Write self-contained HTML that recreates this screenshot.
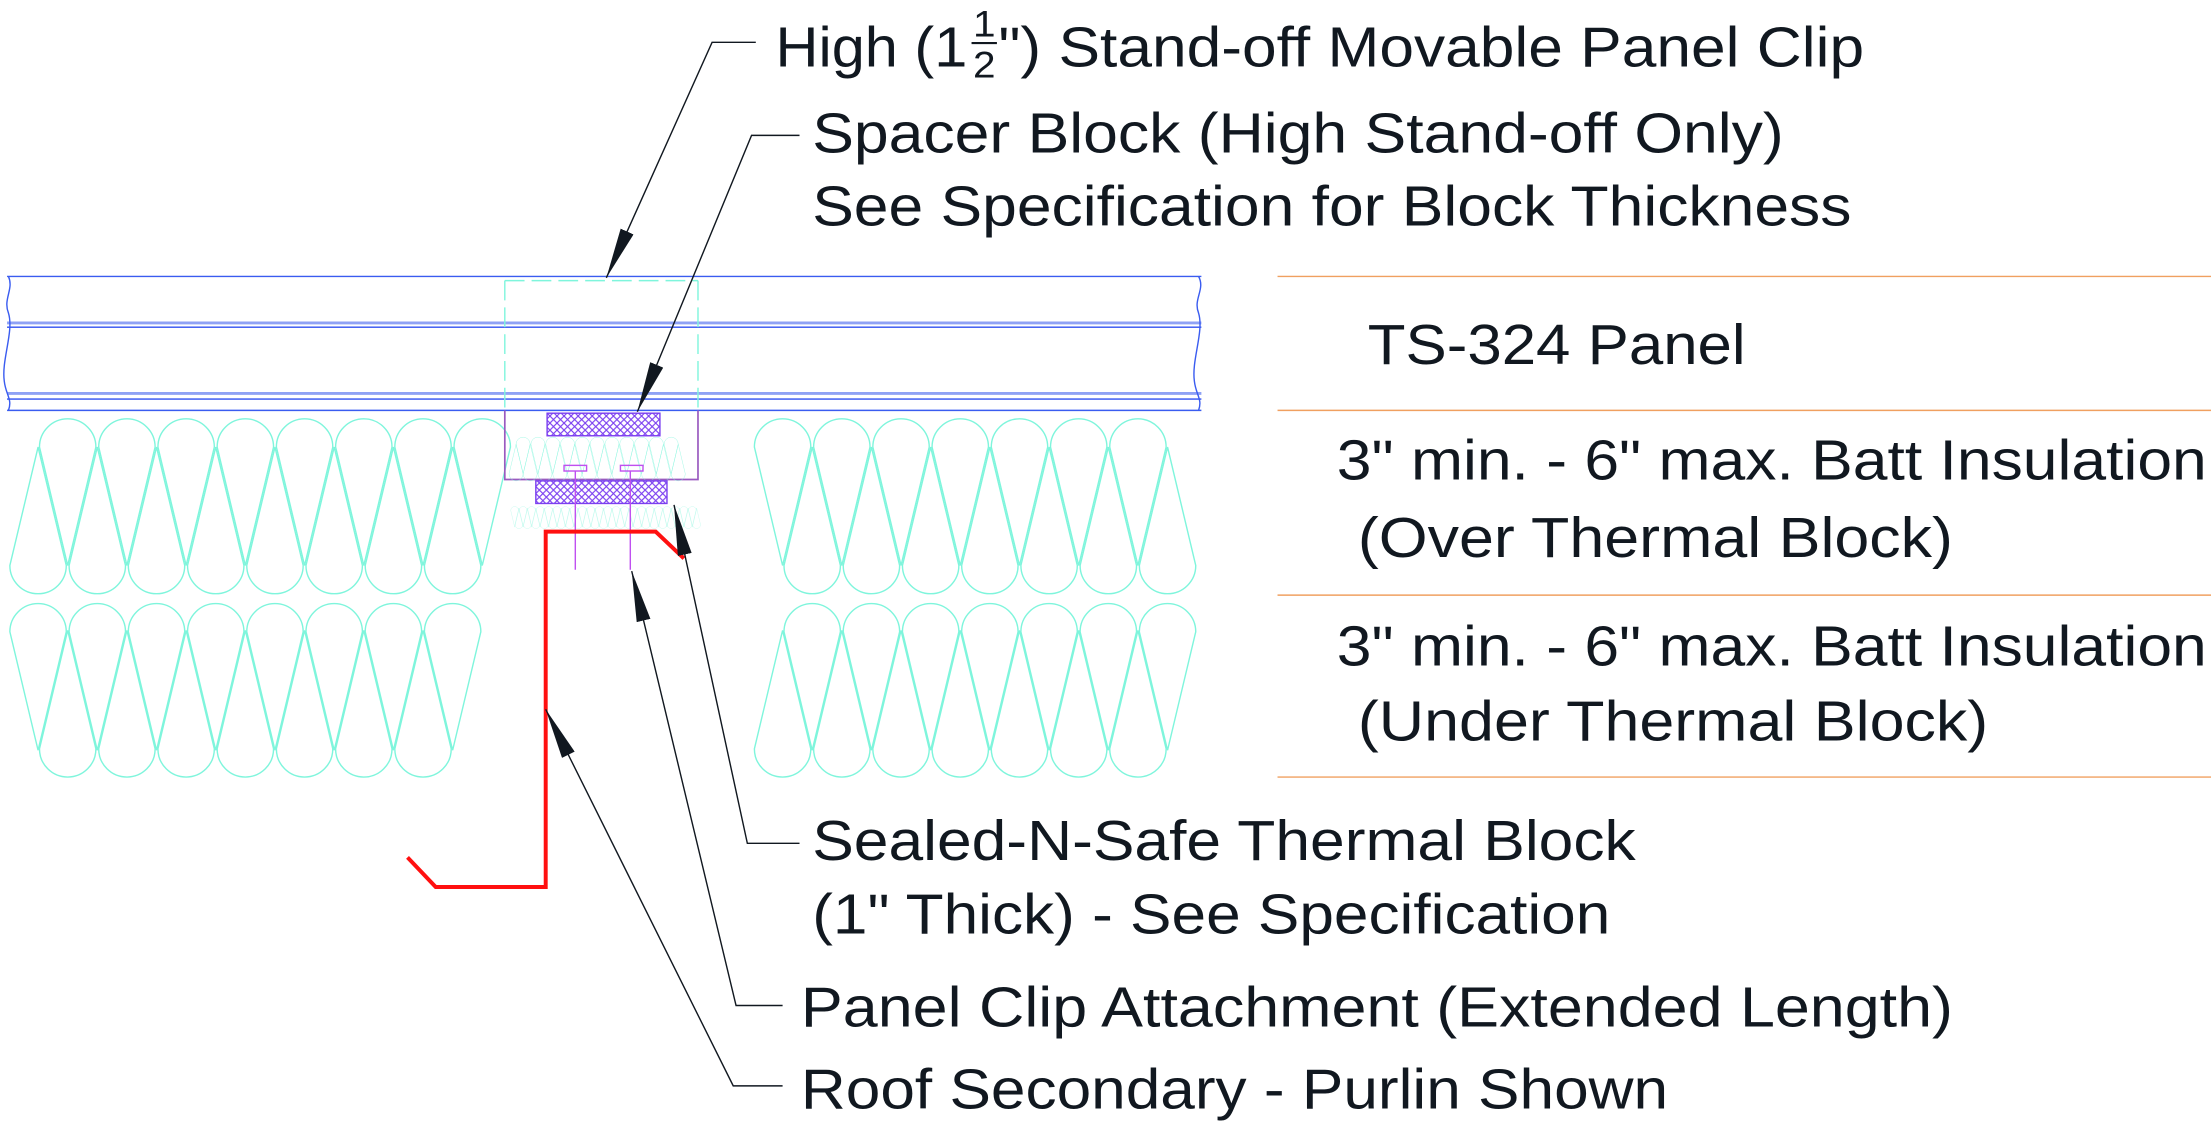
<!DOCTYPE html>
<html><head><meta charset="utf-8"><style>
html,body{margin:0;padding:0;background:#fff;}
svg{display:block;}
text{font-family:"Liberation Sans",sans-serif;font-size:40px;fill:#111820;}
</style></head><body>
<svg width="2211" height="1131" viewBox="0 0 1568 802" preserveAspectRatio="none" xmlns="http://www.w3.org/2000/svg">
<defs>
<path id="dn" d="M-20,0 A20,20 0 0 1 20,0 L0,84 Z" fill="none" stroke="#7ff5dc" stroke-width="1"/>
<path id="up" d="M-20,0 A20,20 0 0 0 20,0 L0,-84 Z" fill="none" stroke="#7ff5dc" stroke-width="1"/>
<pattern id="hatch" width="5" height="5" patternUnits="userSpaceOnUse">
<path d="M0,0 L5,5 M5,0 L0,5" stroke="#7b3ff0" stroke-width="0.8"/>
</pattern>
<marker id="ar" viewBox="0 0 36 10" refX="36" refY="5" markerWidth="36" markerHeight="10" markerUnits="userSpaceOnUse" orient="auto">
<path d="M0,0 L36,5 L0,10 Z" fill="#111820"/>
</marker>
</defs>

<g>
<use href="#dn" x="48" y="317"/><use href="#dn" x="90" y="317"/><use href="#dn" x="132" y="317"/><use href="#dn" x="174" y="317"/><use href="#dn" x="216" y="317"/><use href="#dn" x="258" y="317"/><use href="#dn" x="300" y="317"/><use href="#dn" x="342" y="317"/>
<use href="#up" x="27" y="401"/><use href="#up" x="69" y="401"/><use href="#up" x="111" y="401"/><use href="#up" x="153" y="401"/><use href="#up" x="195" y="401"/><use href="#up" x="237" y="401"/><use href="#up" x="279" y="401"/><use href="#up" x="321" y="401"/>
<use href="#up" x="48" y="531"/><use href="#up" x="90" y="531"/><use href="#up" x="132" y="531"/><use href="#up" x="174" y="531"/><use href="#up" x="216" y="531"/><use href="#up" x="258" y="531"/><use href="#up" x="300" y="531"/>
<use href="#dn" x="27" y="448"/><use href="#dn" x="69" y="448"/><use href="#dn" x="111" y="448"/><use href="#dn" x="153" y="448"/><use href="#dn" x="195" y="448"/><use href="#dn" x="237" y="448"/><use href="#dn" x="279" y="448"/><use href="#dn" x="321" y="448"/>
</g>
<g>
<use href="#dn" x="555" y="317"/><use href="#dn" x="597" y="317"/><use href="#dn" x="639" y="317"/><use href="#dn" x="681" y="317"/><use href="#dn" x="723" y="317"/><use href="#dn" x="765" y="317"/><use href="#dn" x="807" y="317"/>
<use href="#up" x="576" y="401"/><use href="#up" x="618" y="401"/><use href="#up" x="660" y="401"/><use href="#up" x="702" y="401"/><use href="#up" x="744" y="401"/><use href="#up" x="786" y="401"/><use href="#up" x="828" y="401"/>
<use href="#up" x="555" y="531"/><use href="#up" x="597" y="531"/><use href="#up" x="639" y="531"/><use href="#up" x="681" y="531"/><use href="#up" x="723" y="531"/><use href="#up" x="765" y="531"/><use href="#up" x="807" y="531"/>
<use href="#dn" x="576" y="448"/><use href="#dn" x="618" y="448"/><use href="#dn" x="660" y="448"/><use href="#dn" x="702" y="448"/><use href="#dn" x="744" y="448"/><use href="#dn" x="786" y="448"/><use href="#dn" x="828" y="448"/>
</g>

<g fill="none">
<path d="M5,196 L852,196" stroke="#3a5cf0" stroke-width="1"/>
<path d="M5,229 L852,229" stroke="#8fa2f5" stroke-width="2"/>
<path d="M5,232 L852,232" stroke="#2f4ff0" stroke-width="1"/>
<path d="M5,279 L852,279" stroke="#8fa2f5" stroke-width="2"/>
<path d="M5,283 L852,283" stroke="#2f4ff0" stroke-width="1"/>
<path d="M5,291 L852,291" stroke="#3a5cf0" stroke-width="1"/>
<path d="M6,196 C10,205 2,212 6,222 C10,235 1,255 3,270 C4,280 9,283 6,291" stroke="#3a5cf0" stroke-width="1"/>
<path d="M850,196 C855,205 846,212 850,222 C854,235 845,255 847,270 C848,280 853,283 850,291" stroke="#3a5cf0" stroke-width="1"/>
</g>

<path d="M358,199 L358,291 M495,199 L495,291 M358,199 L495,199" fill="none" stroke="#7ff5dc" stroke-width="1" stroke-dasharray="14,5"/>
<path d="M358,291 L358,340 L495,340 L495,291" fill="none" stroke="#9a5ac0" stroke-width="1.2"/>
<rect x="388" y="293" width="80" height="16" fill="url(#hatch)" stroke="#7b3ff0" stroke-width="1"/>
<g>
<use href="#dn" transform="translate(371,315) scale(0.25)"/><use href="#dn" transform="translate(381.5,315) scale(0.25)"/><use href="#dn" transform="translate(392,315) scale(0.25)"/><use href="#dn" transform="translate(402.5,315) scale(0.25)"/><use href="#dn" transform="translate(413,315) scale(0.25)"/><use href="#dn" transform="translate(423.5,315) scale(0.25)"/><use href="#dn" transform="translate(434,315) scale(0.25)"/><use href="#dn" transform="translate(444.5,315) scale(0.25)"/><use href="#dn" transform="translate(455,315) scale(0.25)"/><use href="#dn" transform="translate(465.5,315) scale(0.25)"/><use href="#dn" transform="translate(476,315) scale(0.25)"/>
<use href="#up" transform="translate(366,336) scale(0.25)"/><use href="#up" transform="translate(376,336) scale(0.25)"/><use href="#up" transform="translate(386.5,336) scale(0.25)"/><use href="#up" transform="translate(397,336) scale(0.25)"/><use href="#up" transform="translate(407.5,336) scale(0.25)"/><use href="#up" transform="translate(418,336) scale(0.25)"/><use href="#up" transform="translate(428.5,336) scale(0.25)"/><use href="#up" transform="translate(439,336) scale(0.25)"/><use href="#up" transform="translate(449.5,336) scale(0.25)"/><use href="#up" transform="translate(460,336) scale(0.25)"/><use href="#up" transform="translate(470.5,336) scale(0.25)"/><use href="#up" transform="translate(481,336) scale(0.25)"/>
</g>
<rect x="400" y="330" width="16" height="4" fill="none" stroke="#c050f0" stroke-width="1"/>
<rect x="440" y="330" width="16" height="4" fill="none" stroke="#c050f0" stroke-width="1"/>
<rect x="380" y="341" width="93" height="16" fill="url(#hatch)" stroke="#7b3ff0" stroke-width="1"/>
<g>
<use href="#dn" transform="translate(365,362) scale(0.14)"/><use href="#dn" transform="translate(371,362) scale(0.14)"/><use href="#dn" transform="translate(377,362) scale(0.14)"/><use href="#dn" transform="translate(383,362) scale(0.14)"/><use href="#dn" transform="translate(389,362) scale(0.14)"/><use href="#dn" transform="translate(395,362) scale(0.14)"/><use href="#dn" transform="translate(401,362) scale(0.14)"/><use href="#dn" transform="translate(407,362) scale(0.14)"/><use href="#dn" transform="translate(413,362) scale(0.14)"/><use href="#dn" transform="translate(419,362) scale(0.14)"/><use href="#dn" transform="translate(425,362) scale(0.14)"/><use href="#dn" transform="translate(431,362) scale(0.14)"/><use href="#dn" transform="translate(437,362) scale(0.14)"/><use href="#dn" transform="translate(443,362) scale(0.14)"/><use href="#dn" transform="translate(449,362) scale(0.14)"/><use href="#dn" transform="translate(455,362) scale(0.14)"/><use href="#dn" transform="translate(461,362) scale(0.14)"/><use href="#dn" transform="translate(467,362) scale(0.14)"/><use href="#dn" transform="translate(473,362) scale(0.14)"/><use href="#dn" transform="translate(479,362) scale(0.14)"/><use href="#dn" transform="translate(485,362) scale(0.14)"/><use href="#dn" transform="translate(491,362) scale(0.14)"/>
<use href="#up" transform="translate(368,372) scale(0.14)"/><use href="#up" transform="translate(374,372) scale(0.14)"/><use href="#up" transform="translate(380,372) scale(0.14)"/><use href="#up" transform="translate(386,372) scale(0.14)"/><use href="#up" transform="translate(392,372) scale(0.14)"/><use href="#up" transform="translate(398,372) scale(0.14)"/><use href="#up" transform="translate(404,372) scale(0.14)"/><use href="#up" transform="translate(410,372) scale(0.14)"/><use href="#up" transform="translate(416,372) scale(0.14)"/><use href="#up" transform="translate(422,372) scale(0.14)"/><use href="#up" transform="translate(428,372) scale(0.14)"/><use href="#up" transform="translate(434,372) scale(0.14)"/><use href="#up" transform="translate(440,372) scale(0.14)"/><use href="#up" transform="translate(446,372) scale(0.14)"/><use href="#up" transform="translate(452,372) scale(0.14)"/><use href="#up" transform="translate(458,372) scale(0.14)"/><use href="#up" transform="translate(464,372) scale(0.14)"/><use href="#up" transform="translate(470,372) scale(0.14)"/><use href="#up" transform="translate(476,372) scale(0.14)"/><use href="#up" transform="translate(482,372) scale(0.14)"/><use href="#up" transform="translate(488,372) scale(0.14)"/><use href="#up" transform="translate(494,372) scale(0.14)"/>
</g>

<path d="M408,334 L408,404 M447,334 L447,404" stroke="#c050f0" stroke-width="1"/>
<path d="M485,396 L465,377 L387,377 L387,629 L309,629 L289,608" fill="none" stroke="#ff1010" stroke-width="2.8"/>

<path d="M906,196 L1568,196 M906,291 L1568,291 M906,422 L1568,422 M906,551 L1568,551" stroke="#f0a060" stroke-width="1"/>

<g fill="none" stroke="#111820" stroke-width="1">
<path d="M536,30 L505,30 L430,197" marker-end="url(#ar)"/>
<path d="M567,96 L533,96 L452,292" marker-end="url(#ar)"/>
<path d="M567,598 L530,598 L478,358" marker-end="url(#ar)"/>
<path d="M555,713 L522,713 L448,405" marker-end="url(#ar)"/>
<path d="M555,770 L520,770 L387,503" marker-end="url(#ar)"/>
</g>

<text x="550" y="47" textLength="136" lengthAdjust="spacingAndGlyphs">High (1</text>
<text x="690" y="26" style="font-size:26px" textLength="16" lengthAdjust="spacingAndGlyphs">1</text>
<path d="M689,30.5 L707,30.5" stroke="#111820" stroke-width="1.5"/>
<text x="690" y="55" style="font-size:26px" textLength="16" lengthAdjust="spacingAndGlyphs">2</text>
<text x="708" y="47" textLength="614" lengthAdjust="spacingAndGlyphs">") Stand-off Movable Panel Clip</text>
<text x="576" y="108" textLength="689" lengthAdjust="spacingAndGlyphs">Spacer Block (High Stand-off Only)</text>
<text x="576" y="160" textLength="737" lengthAdjust="spacingAndGlyphs">See Specification for Block Thickness</text>
<text x="970" y="258" textLength="268" lengthAdjust="spacingAndGlyphs">TS-324 Panel</text>
<text x="948" y="340" textLength="617" lengthAdjust="spacingAndGlyphs">3" min. - 6" max. Batt Insulation</text>
<text x="963" y="395" textLength="422" lengthAdjust="spacingAndGlyphs">(Over Thermal Block)</text>
<text x="948" y="472" textLength="617" lengthAdjust="spacingAndGlyphs">3" min. - 6" max. Batt Insulation</text>
<text x="963" y="525" textLength="447" lengthAdjust="spacingAndGlyphs">(Under Thermal Block)</text>
<text x="576" y="610" textLength="584" lengthAdjust="spacingAndGlyphs">Sealed-N-Safe Thermal Block</text>
<text x="576" y="662" textLength="566" lengthAdjust="spacingAndGlyphs">(1" Thick) - See Specification</text>
<text x="568" y="728" textLength="817" lengthAdjust="spacingAndGlyphs">Panel Clip Attachment (Extended Length)</text>
<text x="568" y="786" textLength="615" lengthAdjust="spacingAndGlyphs">Roof Secondary - Purlin Shown</text>
</svg>
</body></html>
